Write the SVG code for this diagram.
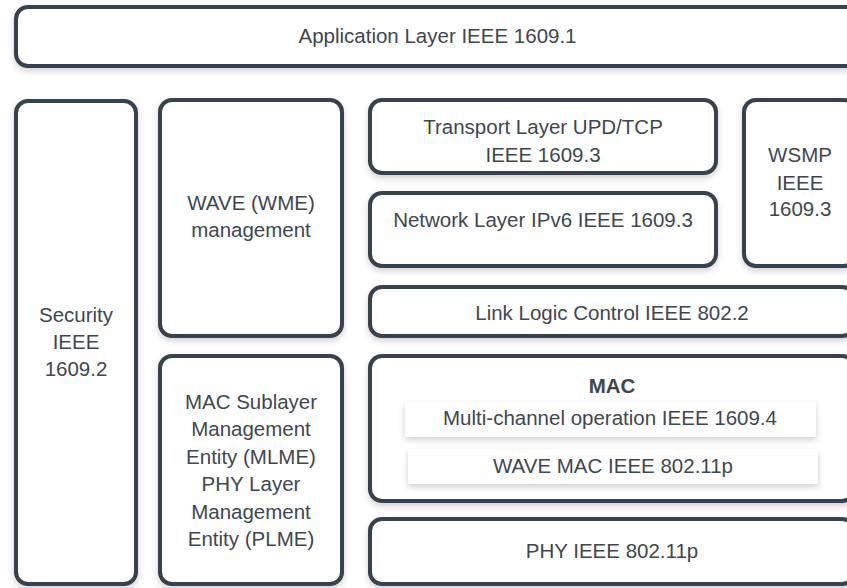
<svg xmlns="http://www.w3.org/2000/svg" width="847" height="588" viewBox="0 0 847 588">
<defs>
<filter id="sh" x="-10%" y="-10%" width="120%" height="130%">
<feDropShadow dx="0" dy="3" stdDeviation="3" flood-color="#000" flood-opacity="0.18"/>
</filter>
<style>
.box{fill:#fff;stroke:#38434f;stroke-width:4;filter:url(#sh)}
.inner{fill:#fff;stroke:none;filter:url(#sh)}
text{font-family:"Liberation Sans",Arial,sans-serif;font-size:20.5px;fill:#3e4751;text-anchor:middle}
.b{font-weight:bold}
</style>
</defs>
<rect width="847" height="588" fill="#fff"/>
<g id="app"><rect class="box" x="16" y="7" width="845" height="59" rx="12"/><text x="437.5" y="43.3">Application Layer IEEE 1609.1</text></g>
<g id="security"><rect class="box" x="16" y="101" width="120" height="483" rx="12"/><text x="76" y="322.3">Security</text><text x="76" y="349">IEEE</text><text x="76" y="376">1609.2</text></g>
<g id="wme"><rect class="box" x="160" y="100" width="182" height="236" rx="12"/><text x="251" y="210.3">WAVE (WME)</text><text x="251" y="237">management</text></g>
<g id="mlme"><rect class="box" x="160" y="356" width="182" height="228" rx="12"/>
<text x="251" y="408.8">MAC Sublayer</text><text x="251" y="436.3">Management</text><text x="251" y="463.8">Entity (MLME)</text><text x="251" y="491.3">PHY Layer</text><text x="251" y="518.8">Management</text><text x="251" y="545.8">Entity (PLME)</text></g>
<g id="transport"><rect class="box" x="370" y="100" width="346" height="73" rx="12"/><text x="543" y="134.3">Transport Layer UPD/TCP</text><text x="543" y="162.3">IEEE 1609.3</text></g>
<g id="network"><rect class="box" x="370" y="193" width="346" height="73" rx="12"/><text x="543" y="227.3">Network Layer IPv6 IEEE 1609.3</text></g>
<g id="wsmp"><rect class="box" x="744" y="100" width="112" height="166" rx="12"/><text x="800" y="162.3">WSMP</text><text x="800" y="189.8">IEEE</text><text x="800" y="216.3">1609.3</text></g>
<g id="llc"><rect class="box" x="370" y="287" width="484" height="49" rx="12"/><text x="612" y="319.8">Link Logic Control IEEE 802.2</text></g>
<g id="mac"><rect class="box" x="370" y="356" width="484" height="145" rx="12"/><text class="b" x="612" y="392.8">MAC</text>
<g id="multichannel"><rect class="inner" x="405" y="402" width="411" height="35"/><text x="610" y="425.3">Multi-channel operation IEEE 1609.4</text></g>
<g id="wavemac"><rect class="inner" x="408" y="449" width="410" height="35"/><text x="613" y="472.8">WAVE MAC IEEE 802.11p</text></g></g>
<g id="phy"><rect class="box" x="370" y="519" width="484" height="65" rx="12"/><text x="612" y="557.8">PHY IEEE 802.11p</text></g>
<g id="connectors"></g>
</svg>
